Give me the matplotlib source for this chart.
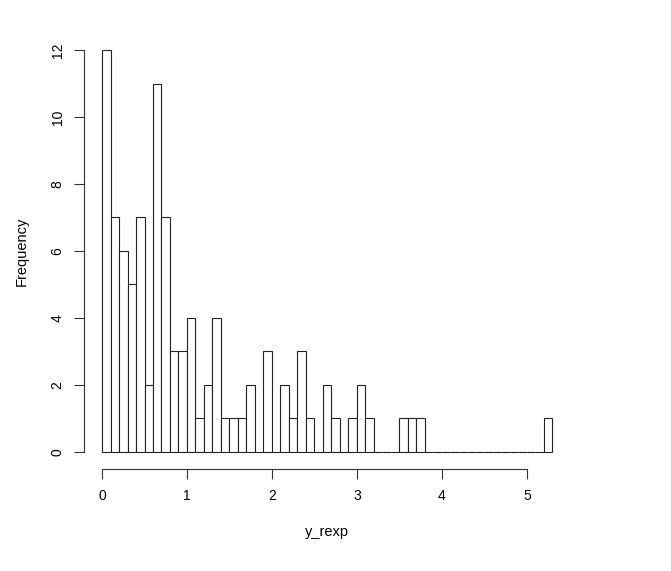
import numpy as np
import matplotlib
matplotlib.use('Agg')
import matplotlib.pyplot as plt

plt.rcParams['font.family'] = ['Liberation Sans', 'DejaVu Sans']

# histogram of y_rexp, bins of width 0.1 from 0 to 5.3
bin_width = 0.1
bin_starts = np.round(np.arange(0, 5.3, bin_width), 1)
counts = [12, 7, 6, 5, 7, 2, 11, 7, 3, 3,
          4, 1, 2, 4, 1, 1, 1, 2, 0, 3,
          0, 2, 1, 3, 1, 0, 2, 1, 0, 1,
          2, 1, 0, 0, 0, 1, 1, 1, 0, 0,
          0, 0, 0, 0, 0, 0, 0, 0, 0, 0,
          0, 0, 1]
x_ticks = [0, 1, 2, 3, 4, 5]
y_ticks = [0, 2, 4, 6, 8, 10, 12]

fig = plt.figure(figsize=(6.71, 5.71), dpi=100)
ax = fig.add_axes([0.1252, 0.1804, 0.7248, 0.7601])

ax.bar(bin_starts, counts, width=bin_width, align='edge',
       color='white', edgecolor='#222222', linewidth=0.8)

ax.set_xlim(-0.212, 5.512)
ax.set_ylim(-0.48, 12.48)

for s in ['top', 'right']:
    ax.spines[s].set_visible(False)
ax.spines['left'].set_bounds(0, 12)
ax.spines['bottom'].set_bounds(0, 5)
ax.spines['bottom'].set_position(('outward', 1))
for s in ['left', 'bottom']:
    ax.spines[s].set_linewidth(0.8)
    ax.spines[s].set_color('#333333')

ax.set_xticks(x_ticks)
ax.set_yticks(y_ticks)
ax.tick_params(length=7, width=0.8, color='#333333', labelsize=10, pad=7)
ax.set_yticklabels([str(v) for v in y_ticks], rotation=90, va='center')

ax.set_xlabel('y_rexp', fontsize=10.5, labelpad=16)
ax.set_ylabel('Frequency', fontsize=10.5, labelpad=16)

fig.savefig('out.png', dpi=100)
